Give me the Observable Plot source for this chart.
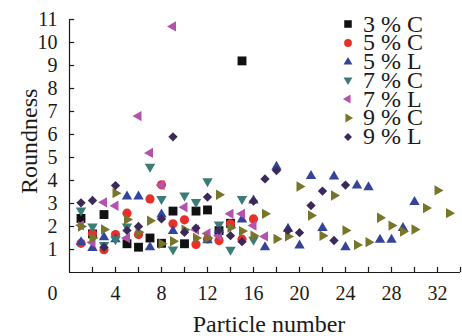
<!DOCTYPE html>
<html><head><meta charset="utf-8">
<script src="https://cdn.jsdelivr.net/npm/d3@7"></script>
<script src="https://cdn.jsdelivr.net/npm/@observablehq/plot@0.6"></script>
<style>
body{margin:0;background:#fff;}
#chart{position:relative;width:462px;height:336px;font-family:"Liberation Serif","Times New Roman",serif;color:#1a1a1a;}
#legend{position:absolute;left:340px;top:14.6px;}
.row{display:flex;align-items:center;height:18.8px;font-size:24px;white-space:nowrap;}
.row svg{width:16px;height:16px;margin-right:7px;overflow:visible;}
</style></head><body><div id="chart"><div id="legend"></div></div>
<script>
// ---- data (particle number, roundness) ----
const seriesNames = ["3 % C", "5 % C", "5 % L", "7 % C", "7 % L", "9 % C", "9 % L"];
const seriesColors = ["#111111", "#e8302a", "#34449a", "#3b7c76", "#b453ad", "#77752a", "#3b2a58"];

const p3C = [1, 2, 3, 5, 6, 7, 8, 9, 10, 11, 12, 13, 14, 15];
const r3C = [2.35, 1.68, 2.52, 1.25, 1.1, 1.5, 1.27, 2.67, 1.25, 2.67, 2.72, 1.82, 2.14, 9.2];

const p5C = [1, 2, 3, 4, 5, 6, 7, 8, 9, 10, 11, 12, 13, 14, 15, 16];
const r5C = [1.27, 1.68, 0.99, 1.65, 2.58, 1.65, 3.2, 3.81, 2.12, 2.29, 1.22, 1.46, 1.39, 2.12, 1.45, 2.33];

const p5L = [1, 2, 3, 4, 5, 6, 7, 8, 9, 12, 13, 15, 16, 17, 18, 19, 20, 21, 22, 23, 24, 25, 26, 27, 28, 29, 30];
const r5L = [1.32, 1.07, 1.53, 1.45, 3.3, 3.3, 1.1, 2.52, 1.8, 1.4, 1.85, 2.3, 3.13, 1.1, 4.6, 1.9, 1.17, 4.2, 1.94, 4.17, 1.1, 3.78, 3.71, 1.42, 1.42, 1.94, 3.06];

const p7C = [1, 2, 3, 4, 5, 7, 8, 9, 10, 11, 12, 13, 14, 15, 16];
const r7C = [2.7, 2.0, 1.2, 1.45, 2.0, 4.6, 3.2, 1.0, 3.35, 3.06, 3.97, 2.09, 0.99, 3.2, 1.42];

const p7L = [1, 2, 3, 4, 5, 6, 7, 8, 9, 10, 11, 12, 13, 14, 15, 16, 17];
const r7L = [2.05, 1.3, 3.05, 2.9, 1.5, 6.8, 5.2, 3.8, 10.7, 2.84, 1.86, 1.7, 1.6, 2.55, 2.55, 2.04, 1.57];

const p9C = [1, 2, 3, 4, 5, 6, 7, 8, 9, 10, 11, 12, 13, 14, 15, 16, 17, 18, 19, 20, 21, 22, 23, 24, 25, 26, 27, 28, 29, 30, 31, 32, 33];
const r9C = [2.0, 1.5, 1.87, 3.45, 2.3, 1.75, 2.25, 1.25, 1.36, 1.86, 1.5, 1.5, 3.38, 1.95, 1.8, 1.6, 2.55, 1.46, 1.57, 3.74, 2.48, 1.6, 3.35, 1.83, 1.2, 1.32, 2.38, 2.04, 1.78, 1.87, 2.8, 3.57, 2.58];

const p9L = [1, 2, 3, 4, 5, 6, 8, 9, 10, 11, 12, 13, 14, 15, 16, 17, 18, 19, 20, 21, 22, 23, 24];
const r9L = [3.03, 3.13, 1.1, 3.78, 1.83, 2.0, 2.33, 5.9, 1.75, 1.93, 3.28, 1.83, 1.6, 1.34, 3.1, 4.07, 4.43, 1.83, 1.73, 2.91, 3.54, 1.39, 3.8];

const xTickLabels = [4, 8, 12, 16, 20, 24, 28, 32];
const xTickMarks = [2, 4, 6, 8, 10, 12, 14, 16, 18, 20, 22, 24, 26, 28, 30, 32, 34];
const yTicks = [1, 2, 3, 4, 5, 6, 7, 8, 9, 10, 11];
const xTitle = "Particle number";
const yTitle = "Roundness";

// ---- symbols ----
function tri(angle) {
  return {draw(ctx, size) {
    const R = Math.sqrt(size / Math.PI) * 1.2;
    for (let i = 0; i < 3; i++) {
      const a = angle + i * 2 * Math.PI / 3;
      const x = R * Math.cos(a), y = R * Math.sin(a);
      if (i) ctx.lineTo(x, y); else ctx.moveTo(x, y);
    }
    ctx.closePath();
  }};
}
const symbols = [d3.symbolSquare, d3.symbolCircle, tri(-Math.PI / 2), tri(Math.PI / 2), tri(Math.PI), tri(0), d3.symbolDiamond2];
const radii = [5, 4.6, 5, 5, 5, 5, 4.2];

const seriesData = [[p3C, r3C], [p5C, r5C], [p5L, r5L], [p7C, r7C], [p7L, r7L], [p9C, r9C], [p9L, r9L]]
  .map(([p, r]) => p.map((x, i) => ({x, y: r[i]})));

const font = '"Liberation Serif","Times New Roman",serif';
const ink = "#1a1a1a";

const plot = Plot.plot({
  width: 462, height: 336,
  marginLeft: 69, marginRight: 2, marginTop: 19, marginBottom: 64,
  style: {fontFamily: font, fontSize: "20px", background: "transparent", color: ink},
  x: {domain: [0, 34]},
  y: {domain: [0, 11]},
  marks: [
    Plot.ruleY([0], {stroke: ink, strokeWidth: 1.2}),
    Plot.ruleX([0], {stroke: ink, strokeWidth: 1.2}),
    Plot.ruleY(yTicks, {x1: 0, x2: 0.45, stroke: ink, strokeWidth: 1.2}),
    Plot.ruleX(xTickMarks, {y1: 0, y2: 0.22, stroke: ink, strokeWidth: 1.2}),
    Plot.axisY(yTicks, {tickSize: 0, tickPadding: 12, fontSize: 20, label: null}),
    Plot.axisX(xTickLabels, {tickSize: 0, tickPadding: 13, fontSize: 20, label: null}),
    Plot.text([0], {x: 0, y: 0, text: d => String(d), dx: -17, dy: 21, fontSize: 20, fill: ink}),
    Plot.text([xTitle], {frameAnchor: "bottom", textAnchor: "middle", lineAnchor: "middle", dx: 4, dy: 52, fontSize: 24, fill: ink}),
    Plot.text([yTitle], {frameAnchor: "middle", textAnchor: "start", lineAnchor: "middle", dx: -236, dy: 48, rotate: -90, fontSize: 24, fill: ink}),
    ...seriesData.map((data, k) => Plot.dot(data, {x: "x", y: "y", symbol: symbols[k], r: radii[k], fill: seriesColors[k], stroke: "none"}))
  ]
});
document.getElementById("chart").prepend(plot);

// ---- legend ----
const legend = document.getElementById("legend");
seriesNames.forEach((name, k) => {
  const row = document.createElement("div");
  row.className = "row";
  const size = Math.PI * (radii[k] * 0.85) ** 2;
  const path = d3.symbol().type(symbols[k]).size(size)();
  row.innerHTML = `<svg viewBox="-8 -8 16 16"><path d="${path}" fill="${seriesColors[k]}"/></svg><span>${name}</span>`;
  legend.appendChild(row);
});
</script>
</body></html>
